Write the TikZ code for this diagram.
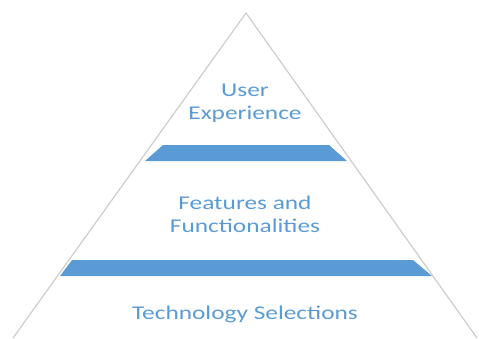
\documentclass[tikz,border=0pt]{standalone}
\usepackage{fontspec}
\setmainfont{Carlito}
\definecolor{layerblue}{RGB}{91,155,213}
\definecolor{edgegray}{RGB}{205,205,205}

\begin{document}
\begin{tikzpicture}[x=1pt,y=-1pt,
      every node/.append style={align=center,text=layerblue,
        xscale=1.3,transform shape,
        font=\fontsize{19.5}{23}\selectfont}]
    \tikzstyle{band} = [fill=layerblue,draw=none]
    \tikzstyle{side} = [draw=edgegray,line width=1.2pt]
    \useasboundingbox (0,0) rectangle (479,338);
    \coordinate (apex) at (246,13);
    \coordinate (left) at (13,338);
    \coordinate (right) at (477,338);
    \draw[side] (left) -- (apex) -- (right);
    % separating bands
    \fill[band] (163,145) -- (329,145) -- (347,161) -- (145,161) -- cycle;
    \fill[band] (72,260) -- (413,260) -- (432,276) -- (60,276) -- cycle;
    \node (ux) at (245,103) {User\\Experience};
    \node (features) at (245,214) {Features and\\Functionalities};
    \node (tech) at (245,314) {Technology Selections};
  \end{tikzpicture}
\end{document}
